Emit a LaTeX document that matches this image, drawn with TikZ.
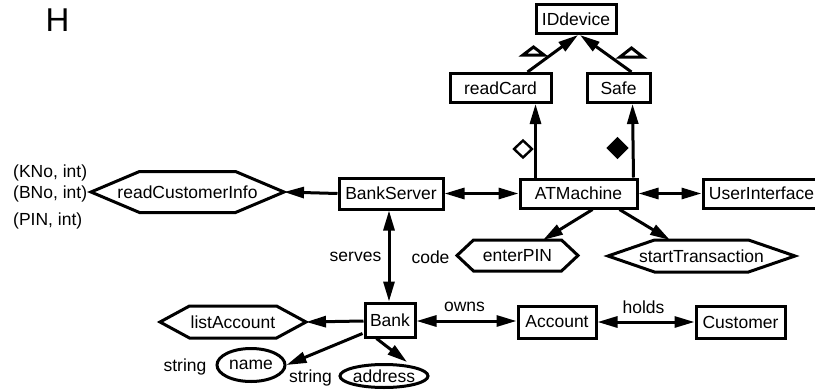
\documentclass[tikz,border=0pt]{standalone}
\usepackage{fontspec}
\setmainfont{Liberation Sans}
\usetikzlibrary{arrows.meta,calc,shapes.geometric}
\newcommand\hexa[7]{%
  \node (#1) at (#2,#3) {#7};
  \draw[lnk, line join=miter] (#2-#4,#3) -- (#2-#5,#3-#6) -- (#2+#5,#3-#6) -- (#2+#4,#3) -- (#2+#5,#3+#6) -- (#2-#5,#3+#6) -- cycle;
  \coordinate (#1-w) at (#2-#4,#3);
  \coordinate (#1-e) at (#2+#4,#3);
}
\begin{document}
\begin{tikzpicture}[x=1pt,y=-1pt,
  every node/.style={font=\fontsize{17.5}{20}\selectfont, inner sep=0pt},
  cls/.style={draw, line width=3pt, minimum height=29pt},
  lnk/.style={line width=3pt},
  tipe/.style={lnk, -{Triangle[length=20pt,width=11pt]}},
  tipb/.style={lnk, {Triangle[length=20pt,width=11pt]}-{Triangle[length=20pt,width=11pt]}},
]
\useasboundingbox (0,0) rectangle (815,389);

% title
\node[font=\fontsize{33}{36}\selectfont] (H) at (57.5,20) {H};

% classes
\node[cls, minimum width=80pt] (IDdevice) at (576,19) {IDdevice};
\node[cls, minimum width=101pt] (readCard) at (500.5,88) {readCard};
\node[cls, minimum width=63pt] (Safe) at (618.5,88) {Safe\hspace{8pt}};
\node[cls, minimum width=117pt] (ATMachine) at (578.5,193.5) {ATMachine};
\node[cls, minimum width=104pt, minimum height=31pt] (BankServer) at (391,193.5) {BankServer};
\node[cls, minimum width=117pt] (UserInterface) at (761.5,193.5) {UserInterface\hspace{6pt}};
\node[cls, minimum width=50pt, minimum height=34pt] (Bank) at (390,320) {Bank};
\node[cls, minimum width=78pt, minimum height=32pt] (Account) at (557,322) {Account};
\node[cls, minimum width=89pt, minimum height=32pt] (Customer) at (740.5,322) {Customer};

% operations (hexagons)
\hexa{readCustomerInfo}{187.5}{192}{96.5}{48}{20.5}{readCustomerInfo}
\hexa{enterPIN}{517.5}{255.5}{60.5}{44}{15.5}{enterPIN}
\hexa{startTransaction}{701.5}{256}{93.5}{47}{16}{startTransaction}
\hexa{listAccount}{233}{322}{73}{43.5}{16}{listAccount}

% attributes (ellipses)
\node[draw, lnk, ellipse, minimum width=68pt, minimum height=33pt] (name) at (251,365) {name};
\node[draw, lnk, ellipse, minimum width=82pt, minimum height=23pt] (address) at (384,376) {address};

% labels
\node[anchor=west] (kno) at (13,173) {(KNo, int)};
\node[anchor=west] (bno) at (13,194) {(BNo, int)};
\node[anchor=west] (pin) at (13,221) {(PIN, int)};
\node (code) at (430.5,257) {code};
\node (serves) at (355.5,257) {serves};
\node (owns) at (464.5,307) {owns};
\node (holds) at (643.5,307) {holds};
\node (str1) at (185,367) {string};
\node (str2) at (310.5,378) {string};

% inheritance
\draw[tipe] ($(readCard.north west)+(79,0)$) -- ($(IDdevice.south)+(2,0)$);
\draw[tipe] ($(Safe.north west)+(46,0)$) -- ($(IDdevice.south)+(4,0)$);
\coordinate (triL) at (533.5,55);
\coordinate (triR) at (631.5,57);
\draw[lnk, line join=miter] ($(triL)+(-10.5,0)$) -- ($(triL)+(10.5,0)$) -- ($(triL)+(0,-8)$) -- cycle;
\draw[lnk, line join=miter] ($(triR)+(-11.5,0)$) -- ($(triR)+(11.5,0)$) -- ($(triR)+(0,-9)$) -- cycle;

% aggregation / composition
\draw[tipe] ($(ATMachine.north west)+(17,0)$) -- ($(readCard.south west)+(87,0)$);
\draw[tipe] ($(ATMachine.north east)+(-5,0)$) -- ($(Safe.south west)+(47,0)$);
\coordinate (dmO) at (523,149);
\coordinate (dmF) at (617.5,148);
\draw[line width=2.4pt] ($(dmO)+(-9,0)$) -- ($(dmO)+(0,-8.5)$) -- ($(dmO)+(9,0)$) -- ($(dmO)+(0,8.5)$) -- cycle;
\draw[line width=1.5pt, fill=black] ($(dmF)+(-10,0)$) -- ($(dmF)+(0,-10)$) -- ($(dmF)+(10,0)$) -- ($(dmF)+(0,10)$) -- cycle;

% associations
\draw[tipb] (BankServer.east) -- (ATMachine.west);
\draw[tipb] (ATMachine.east) -- (UserInterface.west);
\draw[tipe] (BankServer.west) -- (readCustomerInfo-e);
\coordinate (epT) at (543,240);
\coordinate (stT) at (670,240);
\draw[tipe] ($(ATMachine.south west)+(74,0)$) -- (epT);
\draw[tipe] ($(ATMachine.south west)+(101,0)$) -- (stT);
\draw[tipb] ($(BankServer.south)+(-2,0)$) -- ($(Bank.north)+(-1,0)$);
\draw[tipe] ($(Bank.west)+(0,1)$) -- (listAccount-e);
\draw[tipb] ($(Bank.east)+(0,1)$) -- ($(Account.west)+(0,-1)$);
\draw[tipb] (Account.east) -- (Customer.west);
\draw[tipe] ($(Bank.south west)+(-1,-5)$) -- (name.east);
\draw[tipe] ($(Bank.south west)+(13,0)$) -- ($(address.north)+(23,-1)$);
\end{tikzpicture}
\end{document}
